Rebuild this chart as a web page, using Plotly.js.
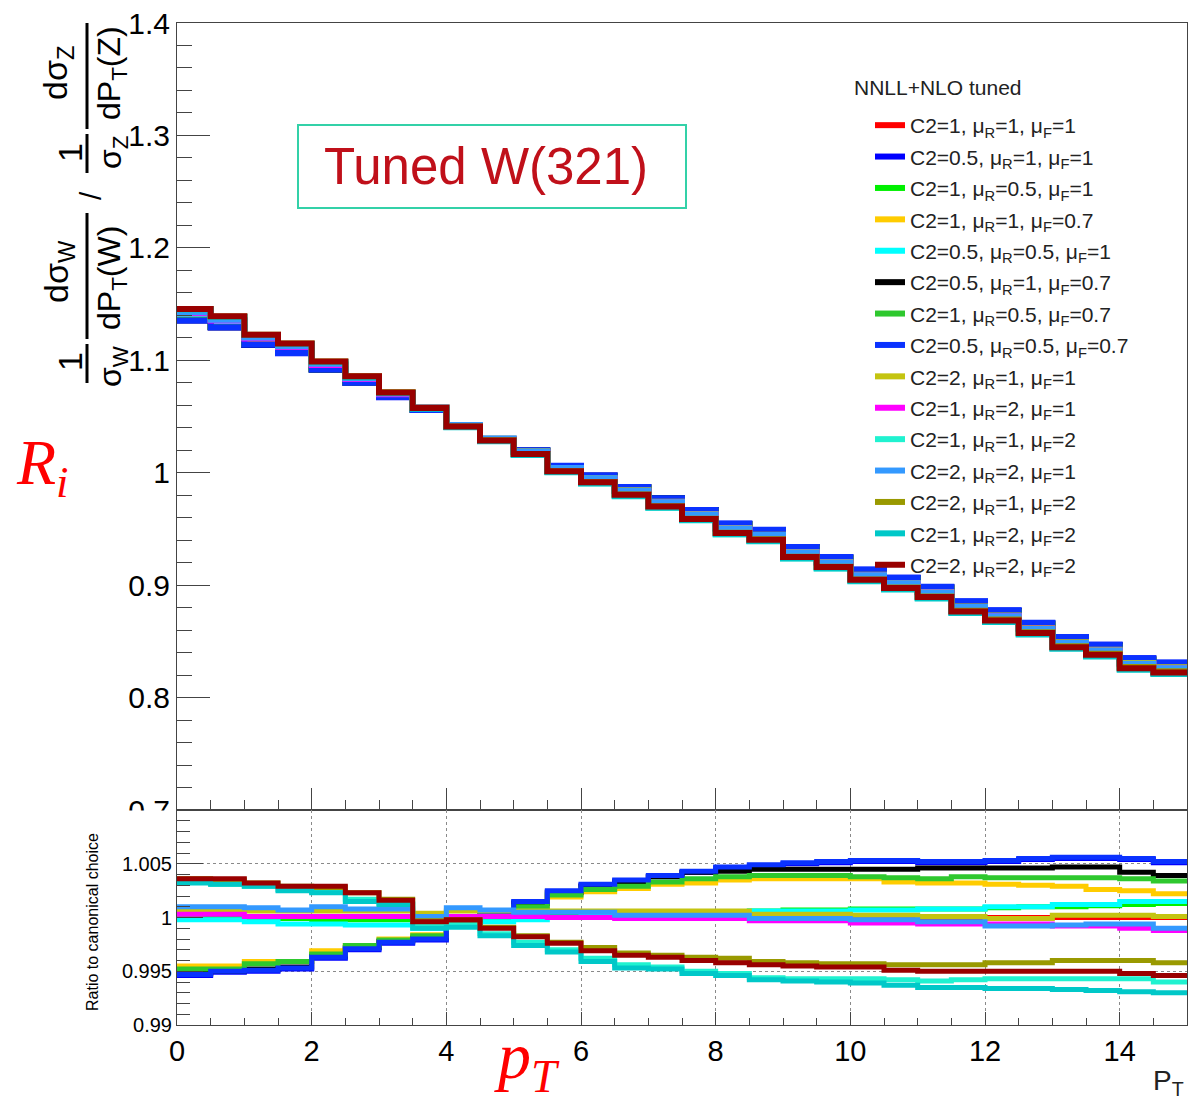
<!DOCTYPE html>
<html><head><meta charset="utf-8">
<script src="https://cdn.plot.ly/plotly-3.0.1.min.js"></script>
<style>html,body{margin:0;padding:0;background:#fff}#chart{width:1188px;height:1107px}</style>
</head><body><div id="chart"></div>
<script>
// bin edges in pT
const binEdges = [0,0.5,1,1.5,2,2.5,3,3.5,4,4.5,5,5.5,6,6.5,7,7.5,8,8.5,9,9.5,10,10.5,11,11.5,12,12.5,13,13.5,14,14.5,15];

// canonical choice (C2=1, muR=1, muF=1): W/Z normalized ratio per bin
const canonical = [1.1415,1.1350,1.1192,1.1116,1.0958,1.0832,1.0697,1.0580,1.0414,1.0297,1.0184,1.0036,0.9945,0.9838,0.9736,0.9627,0.9503,0.9446,0.9292,0.9203,0.9090,0.9018,0.8939,0.8810,0.8730,0.8617,0.8491,0.8423,0.8305,0.8268];

// ratio to canonical choice, per series
const ratio01 = [1,1,1,1,1,1,1,1,1,1,1,1,1,1,1,1,1,1,1,1,1,1,1,1,1,1,1,1,1,1];
const ratio02 = [0.9946,0.9949,0.9950,0.9952,0.9962,0.9970,0.9976,0.9979,0.9992,1.0003,1.0014,1.0024,1.0030,1.0034,1.0038,1.0042,1.0046,1.0048,1.0050,1.0051,1.0052,1.0052,1.0051,1.0051,1.0052,1.0054,1.0055,1.0055,1.0054,1.0051];
const ratio03 = [1.0000,1.0000,0.9999,0.9999,0.9998,0.9998,0.9998,0.9992,0.9996,0.9999,1.0001,1.0002,1.0003,1.0004,1.0004,1.0005,1.0005,1.0006,1.0007,1.0007,1.0008,1.0008,1.0008,1.0008,1.0009,1.0010,1.0010,1.0011,1.0012,1.0013];
const ratio04 = [0.9955,0.9955,0.9959,0.9959,0.9969,0.9974,0.9980,0.9984,0.9995,1.0002,1.0009,1.0019,1.0024,1.0027,1.0031,1.0032,1.0035,1.0036,1.0036,1.0036,1.0036,1.0033,1.0032,1.0032,1.0031,1.0030,1.0029,1.0026,1.0025,1.0022];
const ratio05 = [0.9998,0.9998,0.9996,0.9994,0.9994,0.9993,0.9993,0.9990,0.9993,0.9996,0.9998,1.0000,1.0001,1.0002,1.0003,1.0004,1.0005,1.0006,1.0006,1.0006,1.0007,1.0007,1.0008,1.0008,1.0010,1.0010,1.0012,1.0012,1.0015,1.0015];
const ratio06 = [0.9948,0.9950,0.9952,0.9954,0.9964,0.9972,0.9978,0.9981,0.9993,1.0003,1.0013,1.0023,1.0029,1.0033,1.0038,1.0042,1.0043,1.0045,1.0045,1.0045,1.0045,1.0045,1.0046,1.0046,1.0046,1.0046,1.0047,1.0047,1.0042,1.0039];
const ratio07 = [0.9952,0.9952,0.9957,0.9959,0.9966,0.9974,0.9979,0.9983,0.9994,1.0002,1.0010,1.0021,1.0026,1.0029,1.0033,1.0036,1.0038,1.0039,1.0039,1.0039,1.0038,1.0037,1.0036,1.0038,1.0037,1.0037,1.0037,1.0037,1.0036,1.0034];
const ratio08 = [0.9947,0.9950,0.9951,0.9953,0.9963,0.9971,0.9977,0.9980,0.9993,1.0004,1.0015,1.0025,1.0031,1.0035,1.0039,1.0043,1.0047,1.0049,1.0051,1.0052,1.0053,1.0053,1.0052,1.0052,1.0053,1.0055,1.0056,1.0056,1.0055,1.0052];
const ratio09 = [1.0007,1.0007,1.0006,1.0006,1.0006,1.0006,1.0006,1.0004,1.0006,1.0006,1.0006,1.0006,1.0006,1.0006,1.0006,1.0006,1.0006,1.0003,1.0003,1.0003,1.0002,1.0002,1.0001,1.0001,0.9999,0.9999,1.0002,1.0002,1.0002,1.0001];
const ratio10 = [1.0003,1.0003,1.0001,1.0001,1.0001,1.0001,1.0001,1.0001,1.0001,1.0001,1.0001,1.0000,1.0000,0.9999,0.9999,0.9999,0.9999,0.9997,0.9997,0.9997,0.9995,0.9995,0.9994,0.9994,0.9994,0.9994,0.9992,0.9992,0.9990,0.9988];
const ratio11 = [1.0033,1.0031,1.0029,1.0026,1.0024,1.0017,1.0013,0.9993,0.9993,0.9985,0.9977,0.9970,0.9962,0.9956,0.9954,0.9950,0.9948,0.9944,0.9943,0.9943,0.9943,0.9942,0.9941,0.9942,0.9943,0.9943,0.9943,0.9943,0.9943,0.9940];
const ratio12 = [1.0010,1.0010,1.0009,1.0007,1.0010,1.0008,1.0008,1.0001,1.0009,1.0007,1.0005,1.0005,1.0005,1.0002,1.0002,1.0002,1.0002,0.9999,0.9999,0.9999,0.9998,0.9998,0.9996,0.9996,0.9992,0.9992,0.9993,0.9994,0.9994,0.9990];
const ratio13 = [1.0036,1.0035,1.0032,1.0029,1.0028,1.0023,1.0017,0.9997,0.9998,0.9991,0.9983,0.9977,0.9972,0.9967,0.9965,0.9963,0.9962,0.9959,0.9958,0.9957,0.9957,0.9956,0.9956,0.9956,0.9958,0.9958,0.9960,0.9960,0.9960,0.9958];
const ratio14 = [1.0032,1.0031,1.0029,1.0025,1.0023,1.0015,1.0012,0.9990,0.9991,0.9983,0.9974,0.9968,0.9959,0.9953,0.9952,0.9948,0.9946,0.9942,0.9941,0.9940,0.9939,0.9937,0.9935,0.9935,0.9934,0.9934,0.9933,0.9932,0.9931,0.9930];
const ratio15 = [1.0036,1.0036,1.0032,1.0029,1.0029,1.0023,1.0016,0.9996,0.9998,0.9990,0.9982,0.9976,0.9969,0.9965,0.9963,0.9960,0.9958,0.9956,0.9955,0.9954,0.9954,0.9951,0.9950,0.9950,0.9950,0.9950,0.9950,0.9950,0.9948,0.9946];

const seriesNames = [
  "C2=1, μ<sub>R</sub>=1, μ<sub>F</sub>=1",
  "C2=0.5, μ<sub>R</sub>=1, μ<sub>F</sub>=1",
  "C2=1, μ<sub>R</sub>=0.5, μ<sub>F</sub>=1",
  "C2=1, μ<sub>R</sub>=1, μ<sub>F</sub>=0.7",
  "C2=0.5, μ<sub>R</sub>=0.5, μ<sub>F</sub>=1",
  "C2=0.5, μ<sub>R</sub>=1, μ<sub>F</sub>=0.7",
  "C2=1, μ<sub>R</sub>=0.5, μ<sub>F</sub>=0.7",
  "C2=0.5, μ<sub>R</sub>=0.5, μ<sub>F</sub>=0.7",
  "C2=2, μ<sub>R</sub>=1, μ<sub>F</sub>=1",
  "C2=1, μ<sub>R</sub>=2, μ<sub>F</sub>=1",
  "C2=1, μ<sub>R</sub>=1, μ<sub>F</sub>=2",
  "C2=2, μ<sub>R</sub>=2, μ<sub>F</sub>=1",
  "C2=2, μ<sub>R</sub>=1, μ<sub>F</sub>=2",
  "C2=1, μ<sub>R</sub>=2, μ<sub>F</sub>=2",
  "C2=2, μ<sub>R</sub>=2, μ<sub>F</sub>=2"
];
const seriesColors = ["#ff0000","#0000ff","#00f000","#ffcc00","#00ffff","#000000","#2ec82e","#0a32ff","#c4c410","#ff00ff","#20f2d0","#3399ff","#999900","#00c8c8","#990000"];
const ratios = [ratio01,ratio02,ratio03,ratio04,ratio05,ratio06,ratio07,ratio08,ratio09,ratio10,ratio11,ratio12,ratio13,ratio14,ratio15];
const legendTitle = "NNLL+NLO tuned";

const FONT = "Liberation Sans, Arial, Helvetica, sans-serif";
function stepY(arr){ return arr.concat([arr[arr.length-1]]); }

const traces = [];
ratios.forEach((r, i) => {
  const up = canonical.map((c, k) => c * r[k]);
  traces.push({x: binEdges, y: stepY(up), type: "scatter", mode: "lines",
    line: {shape: "hv", color: seriesColors[i], width: 6},
    name: seriesNames[i], legendgroup: "g" + i, showlegend: true,
    xaxis: "x", yaxis: "y", hoverinfo: "skip"});
});
ratios.forEach((r, i) => {
  traces.push({x: binEdges, y: stepY(r), type: "scatter", mode: "lines",
    line: {shape: "hv", color: seriesColors[i], width: 5},
    name: seriesNames[i], legendgroup: "g" + i, showlegend: false,
    xaxis: "x2", yaxis: "y2", hoverinfo: "skip"});
});

// pixel helpers for decorations (plot area: x 177..1187, y 23..1025)
const L = 177, R = 1187, T = 23, B = 1025;
const px = v => (v - L) / (R - L);
const py = v => (B - v) / (B - T);
const split = py(810);

const axColor = "#444";
const layout = {
  width: 1188, height: 1107,
  margin: {l: L, r: 1188 - R, t: T, b: 1107 - B, pad: 0},
  paper_bgcolor: "#fff", plot_bgcolor: "#fff",
  font: {family: FONT, color: "#000"},
  showlegend: true,
  legend: {x: px(870), y: py(105), xanchor: "left", yanchor: "top",
    bgcolor: "rgba(0,0,0,0)", borderwidth: 0,
    font: {family: FONT, size: 21, color: "#222"},
    tracegroupgap: 1.1},
  xaxis: {domain: [0, 1], anchor: "y", range: [0, 15], showticklabels: false,
    ticks: "inside", tick0: 0, dtick: 2, ticklen: 22, tickcolor: axColor,
    minor: {ticks: "inside", dtick: 0.5, ticklen: 10, tickcolor: axColor, showgrid: false},
    showline: true, linecolor: axColor, linewidth: 1, mirror: true,
    showgrid: false, zeroline: false},
  yaxis: {domain: [split, 1], anchor: "x", range: [0.7, 1.4],
    tickvals: [0.7,0.8,0.9,1.0,1.1,1.2,1.3,1.4],
    ticktext: ["0.7","0.8","0.9","1","1.1","1.2","1.3","1.4"],
    ticks: "inside", ticklen: 33, tickcolor: axColor,
    minor: {ticks: "inside", dtick: 0.02, tick0: 0.7, ticklen: 15, tickcolor: axColor, showgrid: false},
    tickfont: {family: FONT, size: 30, color: "#000"},
    showline: true, linecolor: axColor, linewidth: 1, mirror: true,
    showgrid: false, zeroline: false},
  xaxis2: {domain: [0, 1], anchor: "y2", range: [0, 15],
    ticks: "inside", tick0: 0, dtick: 2, ticklen: 13, tickcolor: axColor,
    minor: {ticks: "inside", dtick: 0.5, ticklen: 7, tickcolor: axColor, showgrid: false},
    tickfont: {family: FONT, size: 29, color: "#000"},
    showline: true, linecolor: axColor, linewidth: 1, mirror: true,
    showgrid: true, gridcolor: "#8a8a8a", griddash: "dot", gridwidth: 1, zeroline: false},
  yaxis2: {domain: [0, split], anchor: "x2", range: [0.99, 1.01],
    tickvals: [0.99, 0.995, 1.0, 1.005, 1.01],
    ticktext: ["0.99", "0.995", "1", "1.005", ""],
    ticks: "inside", ticklen: 26, tickcolor: axColor,
    minor: {ticks: "inside", dtick: 0.001, tick0: 0.99, ticklen: 13, tickcolor: axColor, showgrid: false},
    tickfont: {family: FONT, size: 20, color: "#000"},
    showline: true, linecolor: axColor, linewidth: 1, mirror: true,
    showgrid: true, gridcolor: "#8a8a8a", griddash: "dot", gridwidth: 1, zeroline: false},
  shapes: [
    // hides lower half of the clipped 0.7 label
    {type: "rect", xref: "paper", yref: "paper", x0: px(0), x1: px(175), y0: py(834), y1: py(810.5),
      fillcolor: "#fff", line: {width: 0}, layer: "above"},
    // fraction bars of the y title
    {type: "line", xref: "paper", yref: "paper", x0: px(87), x1: px(87), y0: py(383), y1: py(344), line: {color: "#000", width: 3}},
    {type: "line", xref: "paper", yref: "paper", x0: px(87), x1: px(87), y0: py(339), y1: py(213), line: {color: "#000", width: 3}},
    {type: "line", xref: "paper", yref: "paper", x0: px(87), x1: px(87), y0: py(173), y1: py(134), line: {color: "#000", width: 3}},
    {type: "line", xref: "paper", yref: "paper", x0: px(87), x1: px(87), y0: py(129), y1: py(23), line: {color: "#000", width: 3}},
    // Tuned W(321) box
    {type: "rect", xref: "paper", yref: "paper", x0: px(298), x1: px(686), y0: py(208), y1: py(125),
      fillcolor: "rgba(0,0,0,0)", line: {color: "#33d1a8", width: 2}}
  ],
  annotations: []
};

function ann(text, x, y, size, opts) {
  return Object.assign({text: text, xref: "paper", yref: "paper", x: px(x), y: py(y),
    xanchor: "center", yanchor: "middle", showarrow: false,
    font: {family: FONT, size: size, color: "#000"}}, opts || {});
}
const rot = {textangle: -90};
layout.annotations.push(
  ann("1", 70, 362, 34, rot),
  ann("dσ<sub>W</sub>", 58, 272, 34, rot),
  ann("σ<sub>W</sub>", 112, 366, 32, rot),
  ann("dP<sub>T</sub>(W)", 112, 278, 32, rot),
  ann("/", 90, 196, 30, rot),
  ann("1", 70, 153, 34, rot),
  ann("dσ<sub>Z</sub>", 58, 73, 34, rot),
  ann("σ<sub>Z</sub>", 112, 153, 32, rot),
  ann("dP<sub>T</sub>(Z)", 112, 73, 32, rot),
  ann("Ratio to canonical choice", 92, 922, 16, rot),
  ann(legendTitle, 852, 87, 21, {xanchor: "left", font: {family: FONT, size: 21, color: "#222"}}),
  ann("P<sub>T</sub>", 1168, 1082, 28, {font: {family: FONT, size: 28, color: "#222"}}),
  ann("Tuned W(321)", 486, 166, 51, {font: {family: FONT, size: 51, color: "#c0101a"}}),
  ann("<i>R</i><sub><i>i</i></sub>", 42, 467, 64, {font: {family: "Liberation Serif, DejaVu Serif, serif", size: 64, color: "#ff0000"}}),
  ann("<i>p</i><sub><i>T</i></sub>", 527, 1060, 66, {font: {family: "Liberation Serif, DejaVu Serif, serif", size: 66, color: "#ff0000"}})
);

Plotly.newPlot("chart", traces, layout, {displayModeBar: false, staticPlot: true});
</script>
</body></html>
